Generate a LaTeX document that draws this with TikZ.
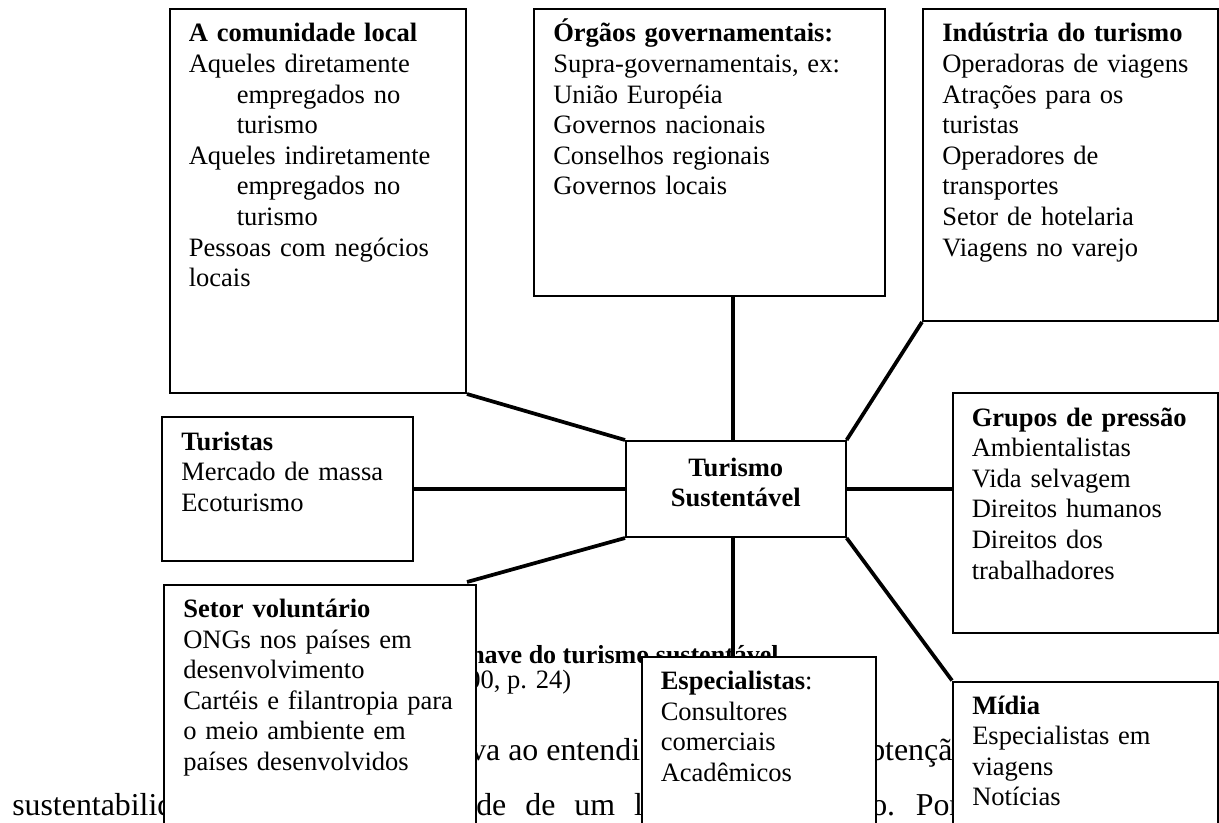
\documentclass[tikz,border=0pt]{standalone}
\usepackage{fontspec}
\setmainfont{Liberation Serif}
\usetikzlibrary{calc,fit}
\tikzset{
  box/.style={draw, line width=1.5pt, fill=white, inner sep=0pt},
  conn/.style={line width=2.8pt},
  txt/.style={anchor=base west, inner sep=0pt, text width=300pt, align=left,
    font=\fontsize{19.9pt}{22.95pt}\selectfont},
  bodytxt/.style={anchor=base west, inner sep=0pt, font=\fontsize{23.9pt}{28pt}\selectfont},
  captxt/.style={anchor=base west, inner sep=0pt, font=\fontsize{19.9pt}{23pt}\selectfont},
}
\begin{document}
\begin{tikzpicture}[x=0.75pt,y=-0.75pt]
\useasboundingbox (0,0) rectangle (1219,823);
\clip (0,0) rectangle (1219,823);
% background page text (partly covered by boxes)
\node[captxt, font=\fontsize{19.5pt}{23pt}\selectfont\bfseries] (cap1) at (470,663) {have do turismo sustentável};
\node[captxt] (cap2) at (467,688) {00, p. 24)};
\node[bodytxt] (l3a) at (470,760) {va ao entendi};
\node[bodytxt] (l3b) at (869,760) {btençã};
\node[bodytxt] (l4a) at (12,815) {sustentabilid};
\node[bodytxt] (l4b) at (476,815) {de\hspace{14.25pt}de\hspace{14.25pt}um\hspace{14.25pt}l};
\node[bodytxt] (l4c) at (871,815) {o.\hspace{15.5pt}Por};
% boxes
\node[box, fit={(626,441) (845.6,537)}] (cen) {};
\node[box, fit={(169.5,9) (466,393)}] (com) {};
\node[box, fit={(534,9) (885,296)}] (org) {};
\node[box, fit={(923,9) (1218,321)}] (ind) {};
\node[box, fit={(162,417) (413,561)}] (tur) {};
\node[box, fit={(952.5,393) (1218,633)}] (gru) {};
\node[box, fit={(164,585) (476,845)}] (set) {};
\node[box, fit={(641.5,657) (876,845)}] (esp) {};
\node[box, fit={(953,681.5) (1218,845)}] (mid) {};
\coordinate (vtop) at ($(cen.north)+(-3,0)$);
\coordinate (vbot) at ($(cen.south)+(-3,0)$);
\coordinate (setend) at ($(set.north east)+(-10,-2)$);
% connectors
\draw[conn] (com.south east) -- (cen.north west);
\draw[conn] (vtop) -- (vtop |- org.south);
\draw[conn] (cen.north east) -- (ind.south west);
\draw[conn] (tur.east) -- (cen.west);
\draw[conn] (cen.east) -- (cen.east -| gru.west);
\draw[conn] (cen.south west) -- (setend);
\draw[conn] (vbot) -- (vbot |- esp.north);
\draw[conn] (cen.south east) -- (mid.north west);
% redraw central box on top of connector ends
\node[box, fit={(626,441) (845.6,537)}] (cen2) {};
% box texts
\node[anchor=base, inner sep=0pt, text width=200pt, align=center,
  font=\fontsize{19.9pt}{22.95pt}\selectfont\bfseries] (cenT) at ($(cen.north)+(0,36)$)
  {Turismo\\Sustentável};
\node[txt] (comT) at ($(com.north west)+(20,34)$) {\textbf{A comunidade local}\\
Aqueles diretamente\\
\hspace*{36pt}empregados no\\
\hspace*{36pt}turismo\\
Aqueles indiretamente\\
\hspace*{36pt}empregados no\\
\hspace*{36pt}turismo\\
Pessoas com negócios\\
locais};
\node[txt] (orgT) at ($(org.north west)+(20,34)$) {\textbf{Órgãos governamentais:}\\
Supra-governamentais, ex:\\
União Européia\\
Governos nacionais\\
Conselhos regionais\\
Governos locais};
\node[txt] (indT) at ($(ind.north west)+(20,34)$) {\textbf{Indústria do turismo}\\
Operadoras de viagens\\
Atrações para os\\
turistas\\
Operadores de\\
transportes\\
Setor de hotelaria\\
Viagens no varejo};
\node[txt] (turT) at ($(tur.north west)+(20,34)$) {\textbf{Turistas}\\
Mercado de massa\\
Ecoturismo};
\node[txt] (gruT) at ($(gru.north west)+(20,34)$) {\textbf{Grupos de pressão}\\
Ambientalistas\\
Vida selvagem\\
Direitos humanos\\
Direitos dos\\
trabalhadores};
\node[txt] (setT) at ($(set.north west)+(20,33.5)$) {\textbf{Setor voluntário}\\
ONGs nos países em\\
desenvolvimento\\
Cartéis e filantropia para\\
o meio ambiente em\\
países desenvolvidos};
\node[txt] (espT) at ($(esp.north west)+(20,33.5)$) {\textbf{Especialistas}:\\
Consultores\\
comerciais\\
Acadêmicos};
\node[txt] (midT) at ($(mid.north west)+(20,33.5)$) {\textbf{Mídia}\\
Especialistas em\\
viagens\\
Notícias};
\end{tikzpicture}
\end{document}
